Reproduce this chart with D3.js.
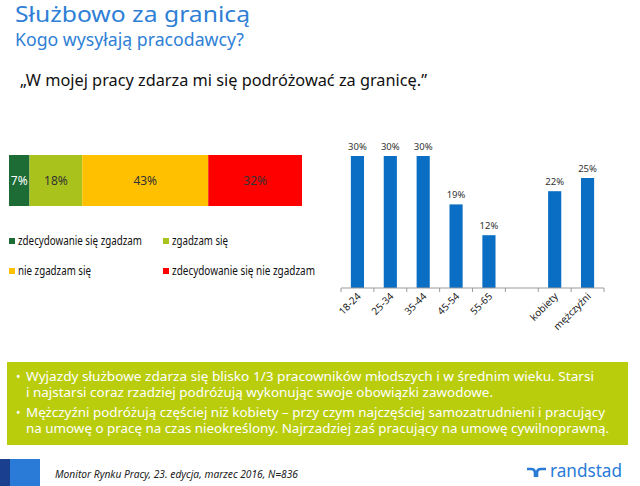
<!DOCTYPE html>
<html>
<head>
<meta charset="utf-8">
<script src="https://cdn.jsdelivr.net/npm/d3@7"></script>
<style>
  body { margin: 0; background: #fff; }
  svg { display: block; }
  text { font-family: "Noto Sans", "Open Sans", sans-serif; }
</style>
</head>
<body>
<svg id="c" width="640" height="486"></svg>
<script>
// ---- Data ----
const stackCategories = ["zdecydowanie się zgadzam", "zgadzam się", "nie zgadzam się", "zdecydowanie się nie zgadzam"];
const stackValues = [7, 18, 43, 32];
const stackColors = ["#1d6b35", "#a9c21c", "#ffc000", "#ff0000"];
const stackLabelColors = ["#ffffff", "#333333", "#333333", "#333333"];

const barCategories = ["18-24", "25-34", "35-44", "45-54", "55-65", "", "kobiety", "mężczyźni"];
const barValues = [30, 30, 30, 19, 12, null, 22, 25];

const titleText = "Służbowo za granicą";
const subtitleText = "Kogo wysyłają pracodawcy?";
const quoteText = "„W mojej pracy zdarza mi się podróżować za granicę.”";
const boxLines = [
  ["• ", "Wyjazdy służbowe zdarza się blisko 1/3 pracowników młodszych i w średnim wieku. Starsi"],
  ["", "i najstarsi coraz rzadziej podróżują wykonując swoje obowiązki zawodowe."],
  ["• ", "Mężczyźni podróżują częściej niż kobiety – przy czym najczęściej samozatrudnieni i pracujący"],
  ["", "na umowę o pracę na czas nieokreślony. Najrzadziej zaś pracujący na umowę cywilnoprawną."]
];
const sourceText = "Monitor Rynku Pracy, 23. edycja, marzec 2016, N=836";

const svg = d3.select("#c");

// ---- Titles ----
svg.append("text").attr("x", 15).attr("y", 22).attr("font-size", 21.5)
  .attr("font-family", "DejaVu Sans")
  .attr("fill", "#2f7fd6").attr("textLength", 235).attr("lengthAdjust", "spacingAndGlyphs").text(titleText);
svg.append("text").attr("x", 15).attr("y", 46).attr("font-size", 18)
  .attr("fill", "#2f7fd6").attr("textLength", 229).attr("lengthAdjust", "spacingAndGlyphs").text(subtitleText);
svg.append("text").attr("x", 20).attr("y", 86).attr("font-size", 16)
  .attr("fill", "#111").attr("textLength", 407).attr("lengthAdjust", "spacingAndGlyphs").text(quoteText);

// ---- Stacked bar ----
const xs = d3.scaleLinear().domain([0, 100]).range([9, 302]);
let acc = 0;
const stackData = stackValues.map((v, i) => { const d = {i, v, x0: acc, x1: acc + v}; acc += v; return d; });
const sg = svg.append("g");
sg.selectAll("rect").data(stackData).join("rect")
  .attr("x", d => xs(d.x0)).attr("width", d => xs(d.x1) - xs(d.x0))
  .attr("y", 155).attr("height", 51)
  .attr("fill", d => stackColors[d.i]);
sg.selectAll("text").data(stackData).join("text")
  .attr("x", d => (xs(d.x0) + xs(d.x1)) / 2).attr("y", 185)
  .attr("text-anchor", "middle").attr("font-size", 12)
  .attr("fill", d => stackLabelColors[d.i])
  .text(d => d.v + "%");

// ---- Legend ----
const legendPos = [[9, 245], [163, 245], [9, 275], [163, 275]];
const legendW = [124, 56, 73, 143];
const lg = svg.append("g");
stackCategories.forEach((c, i) => {
  const [lx, ly] = legendPos[i];
  lg.append("rect").attr("x", lx).attr("y", ly - 7).attr("width", 6).attr("height", 6).attr("fill", stackColors[i]);
  lg.append("text").attr("x", lx + 9).attr("y", ly).attr("font-size", 12).attr("fill", "#111")
    .attr("textLength", legendW[i]).attr("lengthAdjust", "spacingAndGlyphs").text(c);
});

// ---- Column chart ----
const keys = barCategories.map((c, i) => i);
const xb = d3.scaleBand().domain(keys).range([341, 604]).padding(0);
const yb = d3.scaleLinear().domain([0, 30]).range([288, 156]);
const bw = xb.bandwidth() * 0.4;
const bg = svg.append("g");
const bdata = barValues.map((v, i) => ({i, v})).filter(d => d.v !== null);
bg.selectAll("rect").data(bdata).join("rect")
  .attr("x", d => xb(d.i) + xb.bandwidth() / 2 - bw / 2).attr("width", bw)
  .attr("y", d => yb(d.v)).attr("height", d => yb(0) - yb(d.v))
  .attr("fill", "#0a6ec4");
bg.selectAll("text.val").data(bdata).join("text").attr("class", "val")
  .attr("x", d => xb(d.i) + xb.bandwidth() / 2).attr("y", d => yb(d.v) - 6)
  .attr("text-anchor", "middle").attr("font-size", 9.5).attr("fill", "#333")
  .text(d => d.v + "%");

// axis line and ticks
const ag = svg.append("g");
ag.append("line").attr("x1", 341).attr("x2", 604).attr("y1", 288).attr("y2", 288)
  .attr("stroke", "#9a9a9a").attr("stroke-width", 1);
const tickXs = keys.map(k => xb(k)).concat([604]);
ag.selectAll("line.t").data(tickXs).join("line").attr("class", "t")
  .attr("x1", d => d).attr("x2", d => d).attr("y1", 288).attr("y2", 292)
  .attr("stroke", "#9a9a9a");
ag.selectAll("text.lab").data(barCategories.map((c, i) => ({c, i})).filter(d => d.c)).join("text")
  .attr("class", "lab")
  .attr("transform", d => `translate(${xb(d.i) + xb.bandwidth() / 2 + 4},${297}) rotate(-45)`)
  .attr("text-anchor", "end").attr("font-size", 10).attr("fill", "#222")
  .text(d => d.c);

// ---- Green box ----
svg.append("rect").attr("x", 7).attr("y", 362).attr("width", 621).attr("height", 83).attr("fill", "#b9cd0c");
const lineY = [381, 397, 417, 433];
const lineW = [568, 467, 579, 583];
boxLines.forEach((l, i) => {
  if (l[0]) svg.append("text").attr("x", 16).attr("y", lineY[i]).attr("font-size", 11.8).attr("fill", "#fff").text("•");
  svg.append("text").attr("x", 26).attr("y", lineY[i]).attr("font-size", 11.8).attr("fill", "#fff")
    .attr("textLength", lineW[i]).attr("lengthAdjust", "spacingAndGlyphs").text(l[1]);
});

// ---- Footer ----
svg.append("rect").attr("x", 0).attr("y", 459).attr("width", 10).attr("height", 27).attr("fill", "#1b3f8f");
svg.append("rect").attr("x", 10).attr("y", 459).attr("width", 30).attr("height", 27).attr("fill", "#2a7bd8");
svg.append("text").attr("x", 55).attr("y", 478).attr("font-size", 11).attr("font-style", "italic")
  .attr("fill", "#222").attr("textLength", 243).attr("lengthAdjust", "spacingAndGlyphs").text(sourceText);

// randstad logo
const logo = svg.append("g").attr("fill", "none").attr("stroke", "#2a7bd8").attr("stroke-width", 2.6).attr("stroke-linecap", "butt");
logo.append("path").attr("d", "M527,469 h4 q4,0 4,4 v4");
logo.append("path").attr("d", "M537,477 v-4 q0,-4 4,-4 h5");
svg.append("text").attr("x", 550).attr("y", 477).attr("font-size", 18).attr("fill", "#2a7bd8")
  .attr("textLength", 72).attr("lengthAdjust", "spacingAndGlyphs").text("randstad");
</script>
</body>
</html>
